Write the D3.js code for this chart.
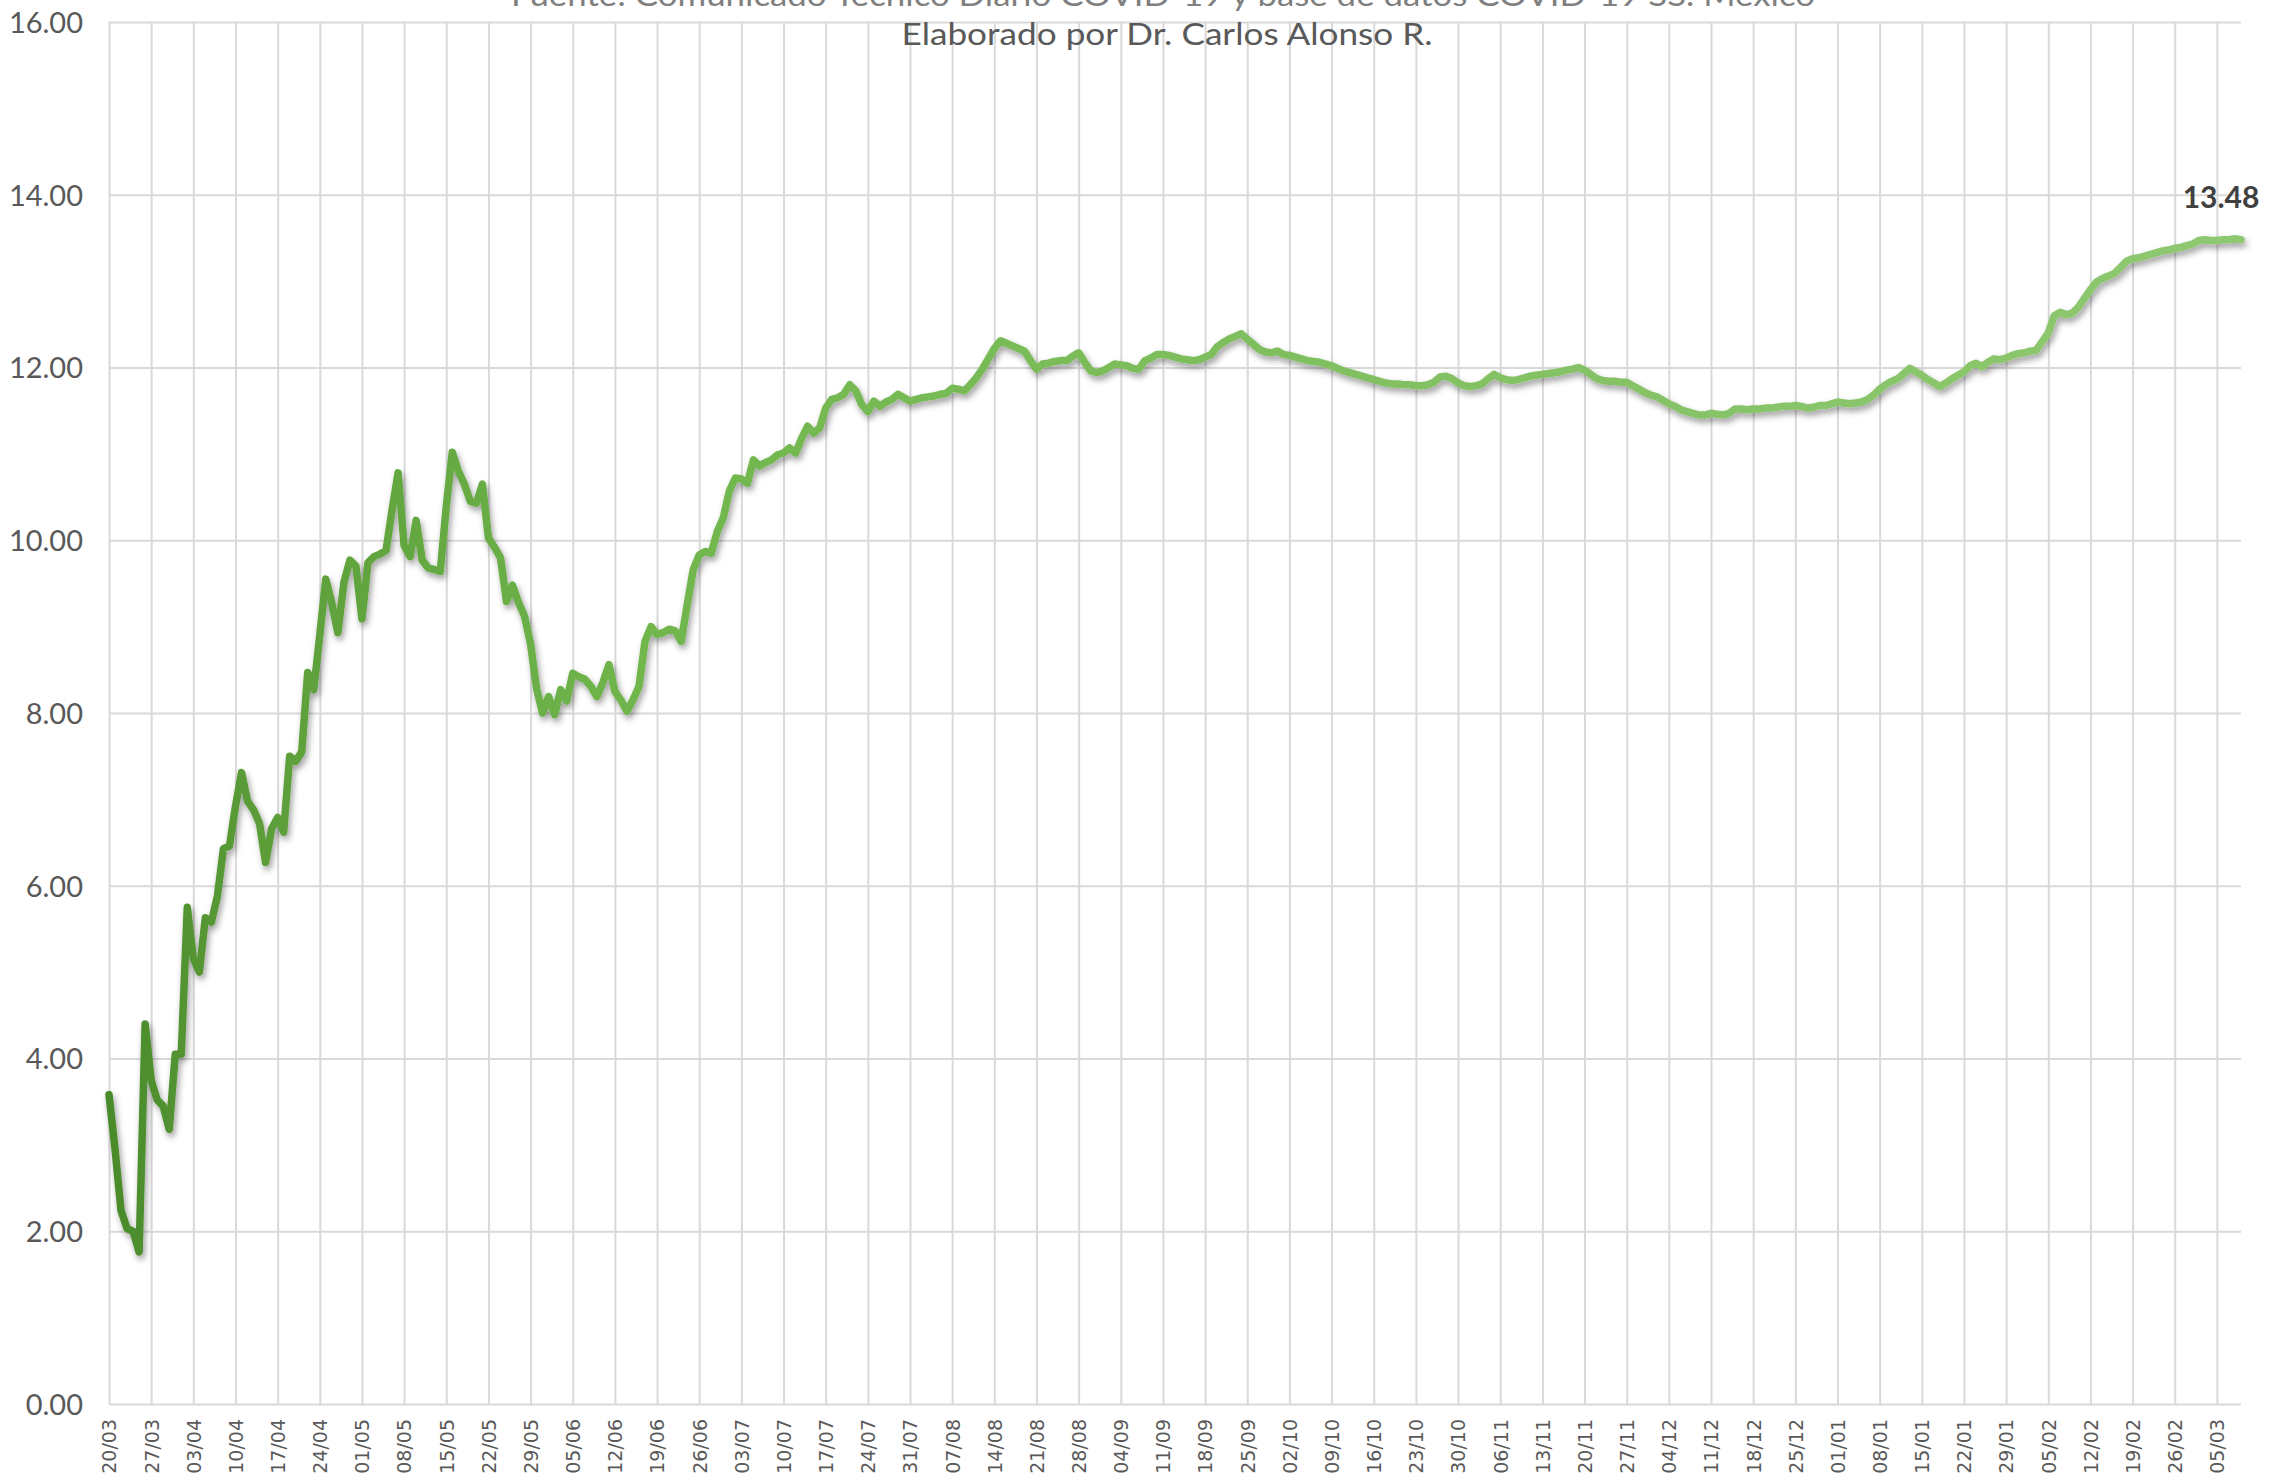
<!DOCTYPE html>
<html>
<head>
<meta charset="utf-8">
<script src="https://cdn.jsdelivr.net/npm/d3@7"></script>
<style>
  html, body { margin: 0; padding: 0; background: #ffffff; }
  svg { display: block; }
</style>
</head>
<body>
<svg id="chart" width="2277" height="1477"></svg>
<script>
// ---- DATA ----
const titleText = "Fuente: Comunicado Técnico Diario COVID-19 y base de datos COVID-19 SS. México";
const subtitleText = "Elaborado por Dr. Carlos Alonso R.";

const tickLabels = [
  "20/03","27/03","03/04","10/04","17/04","24/04","01/05","08/05","15/05","22/05",
  "29/05","05/06","12/06","19/06","26/06","03/07","10/07","17/07","24/07","31/07",
  "07/08","14/08","21/08","28/08","04/09","11/09","18/09","25/09","02/10","09/10",
  "16/10","23/10","30/10","06/11","13/11","20/11","27/11","04/12","11/12","18/12",
  "25/12","01/01","08/01","15/01","22/01","29/01","05/02","12/02","19/02","26/02","05/03"
];

const yTicks = [0, 2, 4, 6, 8, 10, 12, 14, 16];

// daily values, one row per week starting 20/03
const values = [
  3.58, 2.95, 2.24, 2.03, 2.00, 1.76, 4.40,
  3.75, 3.52, 3.45, 3.18, 4.05, 4.05, 5.75,
  5.16, 5.00, 5.63, 5.58, 5.88, 6.43, 6.46,
  6.92, 7.31, 6.98, 6.88, 6.72, 6.27, 6.66,
  6.79, 6.62, 7.50, 7.44, 7.55, 8.47, 8.27,
  8.90, 9.55, 9.27, 8.93, 9.51, 9.77, 9.70,
  9.09, 9.74, 9.81, 9.84, 9.88, 10.35, 10.78,
  9.94, 9.81, 10.23, 9.77, 9.68, 9.66, 9.64,
  10.39, 11.02, 10.80, 10.65, 10.45, 10.43, 10.65,
  10.03, 9.92, 9.80, 9.29, 9.48, 9.28, 9.12,
  8.80, 8.28, 8.00, 8.19, 7.98, 8.27, 8.14,
  8.46, 8.42, 8.39, 8.31, 8.19, 8.35, 8.56,
  8.25, 8.15, 8.02, 8.15, 8.31, 8.83, 9.00,
  8.91, 8.93, 8.97, 8.95, 8.83, 9.25, 9.66,
  9.83, 9.87, 9.85, 10.10, 10.26, 10.57, 10.72,
  10.71, 10.66, 10.93, 10.86, 10.90, 10.93, 10.99,
  11.01, 11.07, 11.01, 11.18, 11.32, 11.24, 11.30,
  11.53, 11.63, 11.65, 11.69, 11.80, 11.73, 11.57,
  11.49, 11.61, 11.55, 11.60, 11.63, 11.69, 11.65,
  11.61, 11.63, 11.65, 11.66, 11.67, 11.69, 11.70,
  11.76, 11.75, 11.73, 11.80, 11.88, 11.98, 12.10,
  12.22, 12.31, 12.28, 12.25, 12.22, 12.19, 12.08,
  11.98, 12.04, 12.05, 12.07, 12.08, 12.08, 12.13,
  12.17, 12.06, 11.96, 11.94, 11.96, 12.00, 12.04,
  12.03, 12.02, 11.99, 11.98, 12.08, 12.11, 12.15,
  12.15, 12.14, 12.12, 12.10, 12.09, 12.08, 12.09,
  12.12, 12.15, 12.24, 12.29, 12.33, 12.36, 12.39,
  12.33, 12.27, 12.21, 12.18, 12.17, 12.19, 12.15,
  12.14, 12.12, 12.10, 12.08, 12.07, 12.06, 12.04,
  12.02, 11.99, 11.96, 11.94, 11.92, 11.90, 11.88,
  11.86, 11.84, 11.82, 11.81, 11.81, 11.80, 11.80,
  11.79, 11.79, 11.80, 11.83, 11.89, 11.90, 11.87,
  11.82, 11.79, 11.78, 11.79, 11.81, 11.87, 11.92,
  11.88, 11.86, 11.85, 11.86, 11.88, 11.90, 11.91,
  11.92, 11.93, 11.94, 11.95, 11.97, 11.98, 12.00,
  11.97, 11.92, 11.87, 11.85, 11.84, 11.84, 11.83,
  11.83, 11.79, 11.75, 11.71, 11.68, 11.66, 11.62,
  11.58, 11.55, 11.51, 11.49, 11.47, 11.45, 11.45,
  11.47, 11.46, 11.45, 11.47, 11.52, 11.52, 11.51,
  11.52, 11.52, 11.53, 11.53, 11.54, 11.55, 11.55,
  11.56, 11.55, 11.53, 11.54, 11.56, 11.56, 11.58,
  11.60, 11.59, 11.58, 11.59, 11.60, 11.63, 11.68,
  11.75, 11.80, 11.84, 11.87, 11.93, 11.99, 11.95,
  11.91, 11.86, 11.82, 11.78, 11.82, 11.87, 11.91,
  11.95, 12.02, 12.05, 12.01, 12.06, 12.10, 12.09,
  12.11, 12.14, 12.16, 12.17, 12.19, 12.20, 12.30,
  12.40, 12.60, 12.64, 12.61, 12.63, 12.70, 12.80,
  12.90, 12.99, 13.03, 13.06, 13.09, 13.16, 13.23,
  13.26, 13.27, 13.29, 13.31, 13.33, 13.35, 13.36,
  13.38, 13.39, 13.41, 13.43, 13.47, 13.48, 13.47,
  13.47, 13.48, 13.48, 13.49, 13.48
];

const lastLabel = "13.48";

// ---- LAYOUT ----
const plotL = 109, plotR = 2241, plotT = 22, plotB = 1404;

const svg = d3.select("#chart");

const x = d3.scaleLinear().domain([0, values.length - 1]).range([plotL, plotR]);
const y = d3.scaleLinear().domain([0, 16]).range([plotB, plotT]);

const tickIdx = tickLabels.map((_, i) => i * 7);

// defs: gradient + shadow
const defs = svg.append("defs");
const grad = defs.append("linearGradient")
  .attr("id", "lineGrad")
  .attr("gradientUnits", "userSpaceOnUse")
  .attr("x1", plotL).attr("y1", 0).attr("x2", plotR).attr("y2", 0);
grad.append("stop").attr("offset", "0%").attr("stop-color", "#4a8a2b");
grad.append("stop").attr("offset", "8%").attr("stop-color", "#5d9f3a");
grad.append("stop").attr("offset", "25%").attr("stop-color", "#70b64c");
grad.append("stop").attr("offset", "60%").attr("stop-color", "#82c062");
grad.append("stop").attr("offset", "100%").attr("stop-color", "#8ec870");

const filt = defs.append("filter").attr("id", "shadow")
  .attr("filterUnits", "userSpaceOnUse")
  .attr("x", 0).attr("y", 0).attr("width", 2277).attr("height", 1477);
filt.append("feDropShadow")
  .attr("dx", 2).attr("dy", 4).attr("stdDeviation", 3)
  .attr("flood-color", "#000000").attr("flood-opacity", 0.38);

// horizontal gridlines via axis
const yGrid = svg.append("g")
  .attr("transform", `translate(${plotL},0)`)
  .call(d3.axisLeft(y).tickValues(yTicks).tickSize(-(plotR - plotL)).tickFormat(""));
yGrid.select(".domain").remove();
yGrid.selectAll(".tick line").attr("stroke", "#d9d9d9").attr("stroke-width", 2);

// vertical gridlines via axis
const xGrid = svg.append("g")
  .attr("transform", `translate(0,${plotB})`)
  .call(d3.axisBottom(x).tickValues(tickIdx).tickSize(-(plotB - plotT)).tickFormat(""));
xGrid.select(".domain").remove();
xGrid.selectAll(".tick line").attr("stroke", "#d9d9d9").attr("stroke-width", 2);

// y axis labels
const yAxis = svg.append("g")
  .attr("transform", `translate(${plotL - 26},0)`)
  .call(d3.axisLeft(y).tickValues(yTicks).tickSize(0).tickPadding(0).tickFormat(d3.format(".2f")));
yAxis.select(".domain").remove();
yAxis.selectAll("text")
  .attr("font-family", "Lato, 'Open Sans', sans-serif")
  .attr("font-size", 29)
  .attr("fill", "#595959")
  .attr("dy", "0.36em");

// x axis labels
const xAxis = svg.append("g")
  .attr("transform", `translate(0,${plotB})`)
  .call(d3.axisBottom(x).tickValues(tickIdx).tickSize(0).tickFormat((d, i) => tickLabels[i]));
xAxis.select(".domain").remove();
xAxis.selectAll("text")
  .attr("font-family", "'DejaVu Sans', Verdana, sans-serif")
  .attr("font-size", 19)
  .attr("fill", "#595959")
  .attr("transform", "rotate(-90)")
  .attr("text-anchor", "end")
  .attr("x", -15)
  .attr("y", 0)
  .attr("dy", "0.36em");

// line
const line = d3.line().x((d, i) => x(i)).y(d => y(d));
svg.append("path")
  .datum(values)
  .attr("d", line)
  .attr("fill", "none")
  .attr("stroke", "url(#lineGrad)")
  .attr("stroke-width", 7.5)
  .attr("stroke-linejoin", "round")
  .attr("stroke-linecap", "round")
  .attr("filter", "url(#shadow)");

// data label at the last point
const lastI = values.length - 1;
svg.append("text")
  .attr("x", x(lastI) - 20)
  .attr("y", y(values[lastI]) - 32)
  .attr("text-anchor", "middle")
  .attr("font-family", "Lato, 'Open Sans', sans-serif")
  .attr("font-weight", "bold")
  .attr("font-size", 30)
  .attr("fill", "#404040")
  .text(lastLabel);

// titles (the first one is partly cut by the top edge, as in the reference)
svg.append("text")
  .attr("x", 1163).attr("y", 6)
  .attr("text-anchor", "middle")
  .attr("font-family", "Lato, 'Open Sans', sans-serif")
  .attr("font-size", 31)
  .attr("fill", "#7f7f7f")
  .attr("textLength", 1304)
  .attr("lengthAdjust", "spacingAndGlyphs")
  .text(titleText);

svg.append("text")
  .attr("x", 1167).attr("y", 45)
  .attr("text-anchor", "middle")
  .attr("font-family", "Lato, 'Open Sans', sans-serif")
  .attr("font-size", 31)
  .attr("fill", "#595959")
  .attr("textLength", 531)
  .attr("lengthAdjust", "spacingAndGlyphs")
  .text(subtitleText);
</script>
</body>
</html>
